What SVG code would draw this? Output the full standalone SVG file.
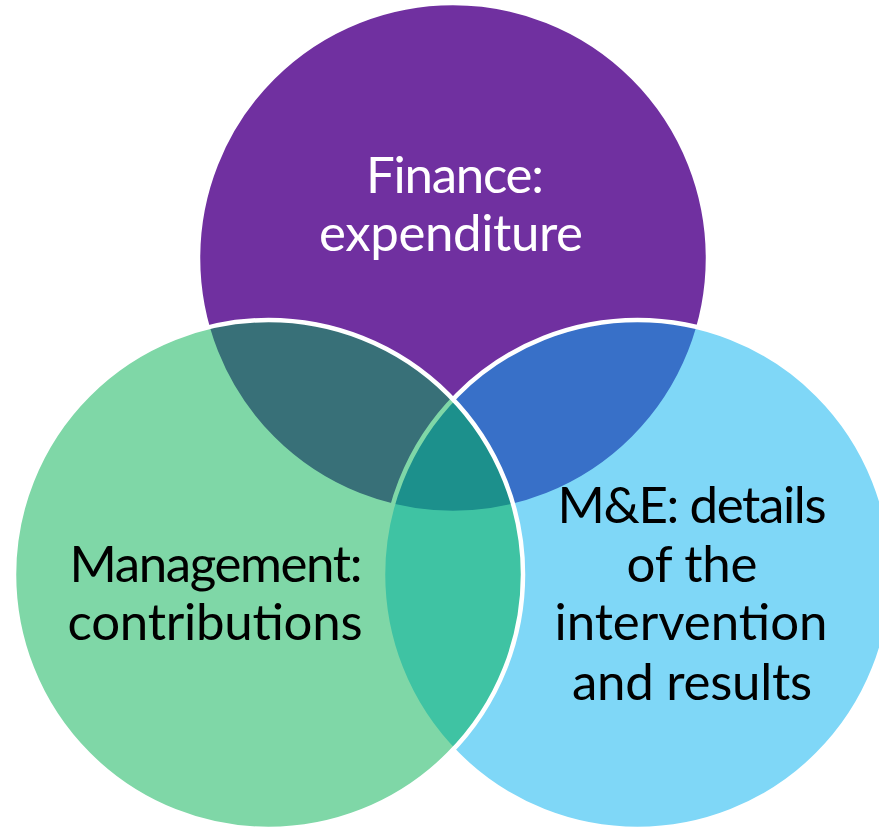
<svg xmlns="http://www.w3.org/2000/svg" width="879" height="830" viewBox="0 0 879 830">
  <style>
    .ring { stroke: #FFFFFF; stroke-width: 4.5; }
    .label { font-family: "Lato", "Liberation Sans", sans-serif; font-size: 51px; text-anchor: middle; }
    .dark { fill: #000000; }
    .light { fill: #FFFFFF; }
  </style>
  <rect width="879" height="830" fill="#FFFFFF"/>

  <!-- Finance: solid purple, drawn first -->
  <g id="finance">
    <circle class="ring" cx="453" cy="258" r="255" fill="#7030A0"/>
    <text class="label light" x="455" y="193" textLength="178">Finance:</text>
    <text class="label light" x="451" y="251" textLength="264">expenditure</text>
  </g>

  <!-- M&E: half-transparent light blue over the purple -->
  <g id="monitoring">
    <circle class="ring" cx="637.5" cy="574.5" r="254.5" fill="#00B0F0" fill-opacity="0.5"/>
  </g>

  <!-- Management: half-transparent green on top -->
  <g id="management">
    <circle class="ring" cx="268.5" cy="574.5" r="254.5" fill="#00B050" fill-opacity="0.5"/>
    <text class="label dark" x="216" y="582" textLength="293">Management:</text>
    <text class="label dark" x="215" y="640" textLength="295">contributions</text>
  </g>

  <!-- labels for the M&E circle sit above every fill -->
  <g id="monitoring-label">
    <text class="label dark" x="692" y="523" textLength="269">M&amp;E: details</text>
    <text class="label dark" x="692" y="582" textLength="131">of the</text>
    <text class="label dark" x="691" y="640" textLength="273">intervention</text>
    <text class="label dark" x="692" y="700" textLength="240">and results</text>
  </g>

  <g id="connectors"/>
</svg>
